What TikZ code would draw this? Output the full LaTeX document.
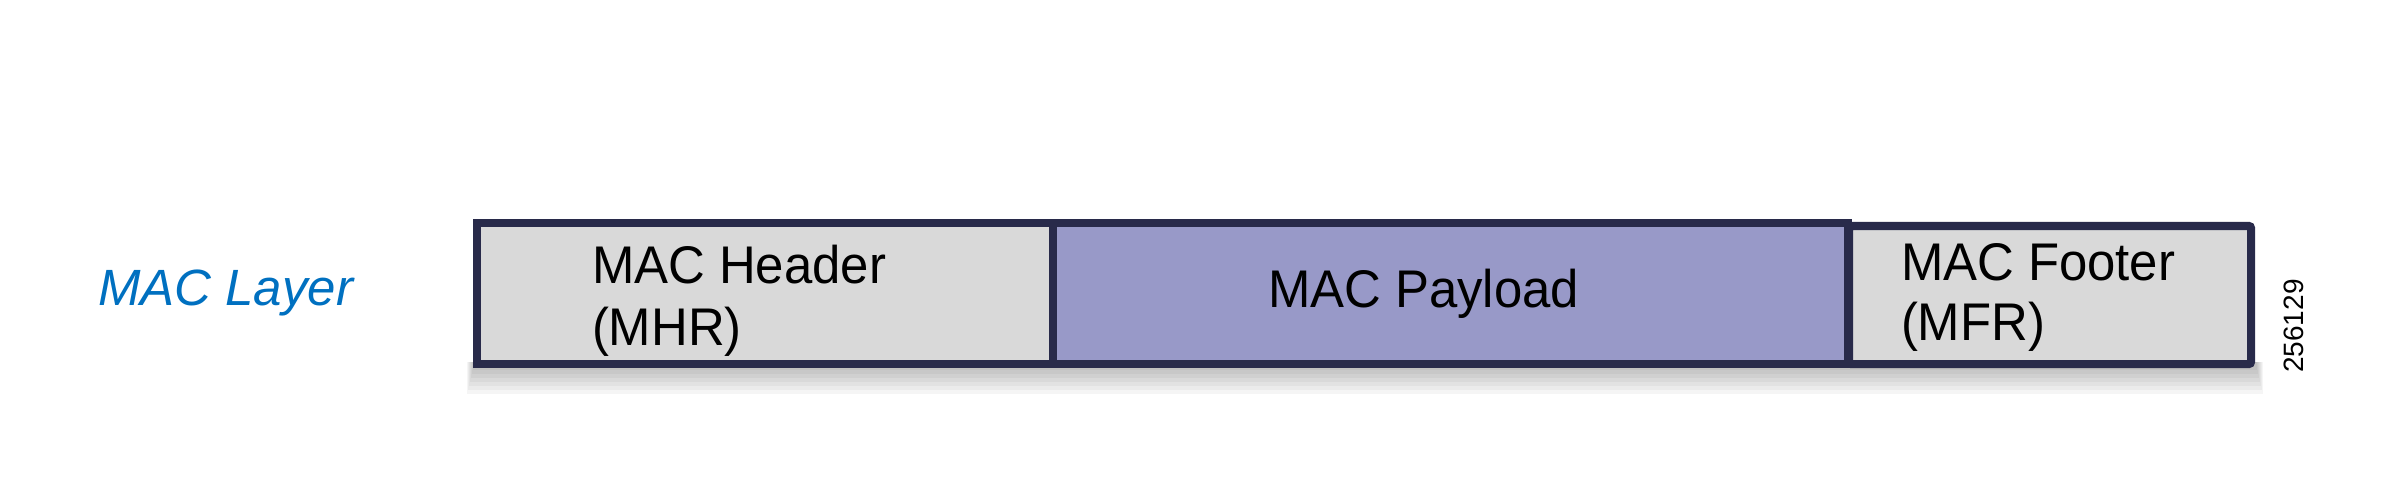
\documentclass[tikz,border=0pt]{standalone}
\usepackage{fontspec}
\setmainfont{Liberation Sans}
\definecolor{framec}{RGB}{40,42,74}
\definecolor{grayfill}{RGB}{217,217,217}
\definecolor{payfill}{RGB}{152,153,200}
\definecolor{layerblue}{RGB}{0,112,192}
\begin{document}
\begin{tikzpicture}[x=1pt,y=-1pt,
  fieldbox/.style={draw=framec,line width=8pt,inner sep=0pt,outer sep=0pt,anchor=north west},
  lbl/.style={inner sep=0pt,outer sep=0pt,anchor=base west,xscale=0.96,font=\fontsize{53}{60}\selectfont},
  layerlbl/.style={inner sep=0pt,outer sep=0pt,anchor=base west,text=layerblue,font=\fontsize{51}{60}\selectfont\itshape},
  shadowlayer/.style={fill=black,opacity=0.04}
]
\useasboundingbox (0,0) rectangle (2406,497);
% soft shadow below the frame
\foreach \i in {1,...,7}{
  \fill[shadowlayer] (474-\i,362) rectangle (2256+\i,366+4*\i);
}
% boxes
\node[fieldbox,fill=grayfill,minimum width=576pt,minimum height=141pt] (mhr) at (477,223) {};
\node[fieldbox,fill=grayfill,minimum width=402pt,minimum height=138pt,rounded corners=2pt] (mfr) at (1849,226) {};
\node[fieldbox,fill=payfill,minimum width=795pt,minimum height=141pt] (pay) at (1053,223) {};
% texts
\node[lbl] (hdrA) at (592,283) {MAC Header};
\node[lbl] (hdrB) at (592,345) {(MHR)};
\node[lbl] (payT) at (1268,307) {MAC Payload};
\node[lbl] (ftrA) at (1901,280) {MAC Footer};
\node[lbl] (ftrB) at (1901,340) {(MFR)};
\node[layerlbl] (layer) at (98,305) {MAC Layer};
\node[inner sep=0pt,outer sep=0pt,rotate=90,anchor=base,font=\fontsize{28}{30}\selectfont] (fig) at (2303,326) {256129};
\end{tikzpicture}
\end{document}
